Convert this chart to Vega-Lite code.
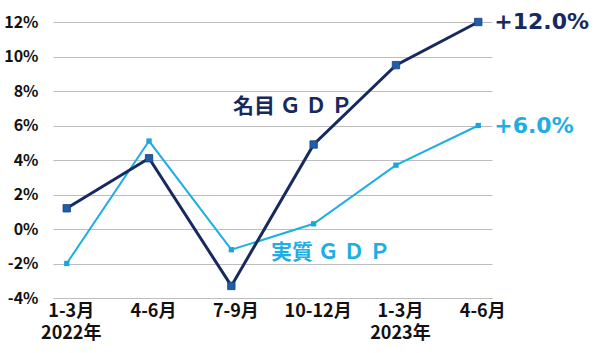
{
  "$schema": "https://vega.github.io/schema/vega-lite/v6.json",
  "autosize": {"type": "none"},
  "padding": {"left": 53, "top": 22, "right": 108, "bottom": 55},
  "width": 439,
  "height": 276,
  "background": "white",
  "config": {"view": {"stroke": null}, "font": "Noto Sans CJK JP"},
  "datasets": {
    "gdp": [
      {"q": "2022Q1", "series": "nominal", "v": 1.2},
      {"q": "2022Q2", "series": "nominal", "v": 4.1},
      {"q": "2022Q3", "series": "nominal", "v": -3.3},
      {"q": "2022Q4", "series": "nominal", "v": 4.9},
      {"q": "2023Q1", "series": "nominal", "v": 9.5},
      {"q": "2023Q2", "series": "nominal", "v": 12.0},
      {"q": "2022Q1", "series": "real", "v": -2.0},
      {"q": "2022Q2", "series": "real", "v": 5.1},
      {"q": "2022Q3", "series": "real", "v": -1.2},
      {"q": "2022Q4", "series": "real", "v": 0.3},
      {"q": "2023Q1", "series": "real", "v": 3.7},
      {"q": "2023Q2", "series": "real", "v": 6.0}
    ],
    "notes": [
      {"q": "2023Q2", "v": 12.0, "label": "+12.0%", "series": "nominal"},
      {"q": "2023Q2", "v": 6.0, "label": "+6.0%", "series": "real"}
    ],
    "names": [
      {"q": "2022Q4", "v": 7.1, "label": "名目 Ｇ Ｄ Ｐ", "series": "nominal"},
      {"q": "2022Q4", "v": -1.4, "label": "実質 Ｇ Ｄ Ｐ", "series": "real"}
    ],
    "divider": [{"q": "2022Q4"}]
  },
  "encoding": {
    "x": {
      "field": "q", "type": "ordinal", "sort": null,
      "scale": {"type": "point", "padding": 0.167, "domain": ["2022Q1","2022Q2","2022Q3","2022Q4","2023Q1","2023Q2"]},
      "axis": {
        "title": null, "domain": false, "ticks": false, "grid": false,
        "labelAngle": 0, "labelFont": "Noto Sans CJK JP", "labelFontWeight": "bold",
        "labelFontSize": 18, "labelColor": "#111111", "labelPadding": 4, "labelLineHeight": 22,
        "labelOffset": 4, "labelOverlap": false,
        "labelExpr": "datum.value == '2022Q1' ? ['1-3月','2022年'] : datum.value == '2022Q2' ? '4-6月' : datum.value == '2022Q3' ? '7-9月' : datum.value == '2022Q4' ? '10-12月' : datum.value == '2023Q1' ? ['1-3月','2023年'] : '4-6月'"
      }
    },
    "y": {
      "field": "v", "type": "quantitative",
      "scale": {"domain": [-4, 12], "nice": false, "zero": false},
      "axis": {
        "title": null, "domain": false, "ticks": false, "values": [-4,-2,0,2,4,6,8,10,12],
        "labelExpr": "datum.value + '%'", "labelFont": "Noto Sans CJK JP", "labelFontWeight": "bold",
        "labelFontSize": 16, "labelColor": "#111111", "labelPadding": 15,
        "gridColor": "#bdbdbd", "gridWidth": 1
      }
    }
  },
  "layer": [
    {
      "data": {"name": "divider"},
      "mark": {"type": "rule", "color": "#b3b3b3", "strokeWidth": 1, "xOffset": 43},
      "encoding": {"y": {"datum": 12}, "y2": {"datum": -4}}
    },
    {
      "data": {"name": "gdp"},
      "transform": [{"filter": "datum.series == 'real'"}],
      "mark": {"type": "line", "color": "#1eaee3", "strokeWidth": 2}
    },
    {
      "data": {"name": "gdp"},
      "transform": [{"filter": "datum.series == 'real'"}],
      "mark": {"type": "square", "color": "#1aa6dc", "filled": true, "size": 28, "opacity": 1}
    },
    {
      "data": {"name": "gdp"},
      "transform": [{"filter": "datum.series == 'nominal'"}],
      "mark": {"type": "line", "color": "#172a5e", "strokeWidth": 3}
    },
    {
      "data": {"name": "gdp"},
      "transform": [{"filter": "datum.series == 'nominal'"}],
      "mark": {"type": "square", "color": "#1f5ea8", "filled": true, "size": 55, "opacity": 1, "stroke": "#173f80", "strokeWidth": 0.8}
    },
    {
      "data": {"name": "notes"},
      "mark": {"type": "text", "align": "left", "baseline": "middle", "dx": 16, "font": "DejaVu Sans", "fontWeight": "bold", "fontSize": 22},
      "encoding": {
        "text": {"field": "label"},
        "color": {"field": "series", "type": "nominal", "scale": {"domain": ["nominal","real"], "range": ["#172a5e","#1eaee3"]}, "legend": null}
      }
    },
    {
      "data": {"name": "names"},
      "transform": [{"filter": "datum.series == 'nominal'"}],
      "mark": {"type": "text", "align": "center", "baseline": "middle", "dx": -21, "font": "Noto Sans CJK JP", "fontWeight": "bold", "fontSize": 21, "color": "#172a5e"},
      "encoding": {"text": {"field": "label"}}
    },
    {
      "data": {"name": "names"},
      "transform": [{"filter": "datum.series == 'real'"}],
      "mark": {"type": "text", "align": "center", "baseline": "middle", "dx": 17, "font": "Noto Sans CJK JP", "fontWeight": "bold", "fontSize": 21, "color": "#1eaee3"},
      "encoding": {"text": {"field": "label"}}
    }
  ]
}
